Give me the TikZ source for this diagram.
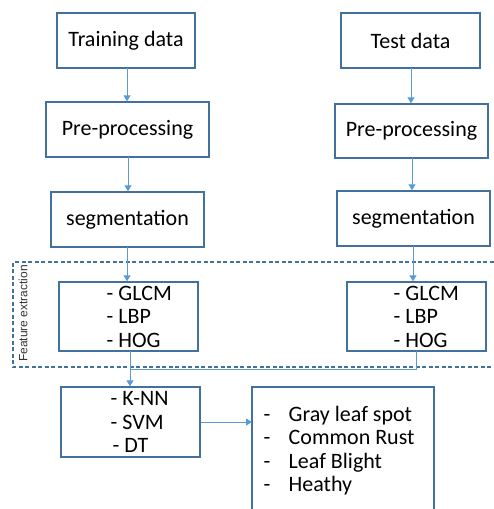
\documentclass[tikz,border=0pt]{standalone}
\usepackage{fontspec}
\setmainfont{Carlito}
\newfontfamily\labelfont{Liberation Sans}
\usetikzlibrary{arrows.meta}
\definecolor{boxblue}{HTML}{41719C}
\definecolor{lineblue}{HTML}{5B9BD5}
\tikzset{
  stepbox/.style={draw=boxblue, line width=1.4pt, minimum width=#1, inner sep=0pt, font=\fontsize{22}{24}\selectfont},
  stepbox/.default=140pt,
  flow/.style={draw=lineblue, line width=1pt, -{Triangle[length=6pt,width=7pt]}},
  plainline/.style={draw=lineblue, line width=1pt},
  itemtext/.style={anchor=base west, inner sep=0pt, font=\fontsize{22}{24}\selectfont},
}
\begin{document}
\begin{tikzpicture}[x=1pt,y=-1pt]
\useasboundingbox (0,0) rectangle (494,509);
% dashed feature-extraction frame (open on the right)
\draw[boxblue, line width=1.2pt, dash pattern=on 4pt off 2.5pt] (500,262) -- (13,262) -- (13,367) -- (500,367);
\node[rotate=90, font=\labelfont\fontsize{12}{14}\selectfont, text=black!80, inner sep=0pt] (fe) at (23,313.5) {Feature extraction};
% left column
\node[stepbox=138pt, minimum height=55pt] (train) at (126,40.5) {Training data};
\node[stepbox=163pt, minimum height=55pt] (preL) at (127.5,129.5) {Pre-processing};
\node[stepbox=153pt, minimum height=55pt] (segL) at (127.5,219.5) {segmentation};
\node[stepbox=139pt, minimum height=69pt] (featL) at (128.5,316.5) {};
\node[stepbox=139pt, minimum height=70pt] (clf) at (130.5,422) {};
% right column
\node[stepbox=139pt, minimum height=55pt] (test) at (410.5,40.5) {Test data};
\node[stepbox=153pt, minimum height=54pt] (preR) at (411.5,131) {Pre-processing};
\node[stepbox=153pt, minimum height=55pt] (segR) at (413.5,218.5) {segmentation};
\node[stepbox=139pt, minimum height=69pt] (featR) at (416.5,316.5) {};
% result box (open at the bottom)
\coordinate (resTL) at (252,387);
\coordinate (resTR) at (434,387);
\draw[boxblue, line width=1.4pt] (252,515) -- (resTL) -- (resTR) -- (434,515);
% list texts
\node[itemtext] (l1) at (106.5,300) {- GLCM};
\node[itemtext] (l2) at (106.5,323.5) {- LBP};
\node[itemtext] (l3) at (106.5,347) {- HOG};
\node[itemtext] (r1) at (393.5,300) {- GLCM};
\node[itemtext] (r2) at (393.5,323.5) {- LBP};
\node[itemtext] (r3) at (393.5,347) {- HOG};
\node[itemtext] (c1) at (110.5,405.5) {- K-NN};
\node[itemtext] (c2) at (110.5,429) {- SVM};
\node[itemtext] (c3) at (112.5,452.5) {- DT};
\node[itemtext] (d1) at (263.5,421.5) {-};
\node[itemtext] (d2) at (263.5,444.8) {-};
\node[itemtext] (d3) at (263.5,468) {-};
\node[itemtext] (d4) at (263.5,491.3) {-};
\node[itemtext] (t1) at (288.5,421.5) {Gray leaf spot};
\node[itemtext] (t2) at (288.5,444.8) {Common Rust};
\node[itemtext] (t3) at (288.5,468) {Leaf Blight};
\node[itemtext] (t4) at (288.5,491.3) {Heathy};
% connectors left
\draw[flow] (127,68) coordinate (a1) -- (a1 |- preL.north);
\draw[flow] (128,157) coordinate (a2) -- (a2 |- segL.north);
\draw[flow] (127,247) coordinate (a3) -- (a3 |- featL.north);
\coordinate (join) at (130,369);
\draw[flow] (130,351) coordinate (a4) -- (a4 |- clf.north);
% connectors right
\draw[flow] (411,68) coordinate (b1) -- (b1 |- preR.north);
\draw[flow] (412,158) coordinate (b2) -- (b2 |- segR.north);
\draw[flow] (413,246) coordinate (b3) -- (b3 |- featR.north);
\draw[plainline] (416,351) coordinate (b4) -- (b4 |- join) -- (join);
% classifier to result
\draw[flow] (clf.east |- 0,422) -- (252,422);
\end{tikzpicture}
\end{document}
